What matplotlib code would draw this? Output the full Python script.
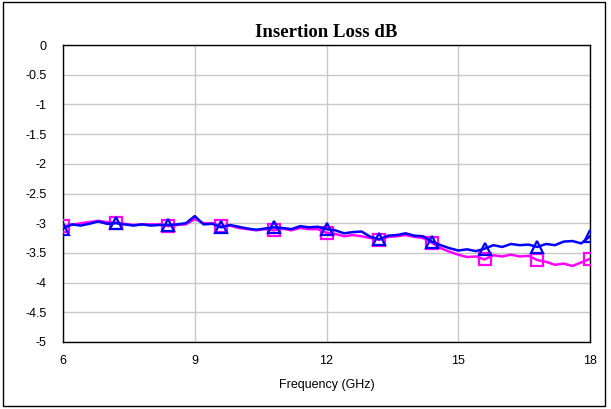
import numpy as np
import matplotlib
matplotlib.use('Agg')
from matplotlib import pyplot as plt
from matplotlib.patches import Rectangle

# frequency grid, GHz (0.2 GHz step)
freq = np.round(np.arange(6.0, 18.0001, 0.2), 2)

# insertion loss, dB
loss_blue = [-3.09, -3.02, -3.04, -3.01, -2.97, -3.01, -3.00, -3.02, -3.04, -3.02,
             -3.04, -3.03, -3.03, -3.02, -3.00, -2.88, -3.02, -3.01, -3.07, -3.03,
             -3.06, -3.09, -3.11, -3.09, -3.07, -3.08, -3.10, -3.05, -3.07, -3.06,
             -3.10, -3.12, -3.17, -3.15, -3.14, -3.23, -3.27, -3.21, -3.20, -3.17,
             -3.21, -3.22, -3.31, -3.37, -3.42, -3.46, -3.44, -3.47, -3.43, -3.37,
             -3.40, -3.35, -3.37, -3.36, -3.40, -3.35, -3.37, -3.31, -3.30, -3.34,
             -3.22]
loss_magenta = [-3.05, -3.03, -3.00, -2.98, -2.96, -2.98, -2.99, -3.01, -3.03, -3.02,
                -3.02, -3.02, -3.05, -3.03, -3.02, -2.93, -3.00, -3.00, -3.05, -3.04,
                -3.08, -3.10, -3.12, -3.10, -3.12, -3.09, -3.12, -3.08, -3.10, -3.10,
                -3.16, -3.18, -3.22, -3.20, -3.22, -3.25, -3.28, -3.23, -3.22, -3.20,
                -3.23, -3.25, -3.33, -3.42, -3.48, -3.53, -3.57, -3.56, -3.61, -3.54,
                -3.56, -3.53, -3.56, -3.55, -3.62, -3.65, -3.70, -3.68, -3.72, -3.66,
                -3.60]

xticks = [6, 9, 12, 15, 18]
yticks = np.arange(-5, 0.01, 0.5)
ylabels = ['-5', '-4.5', '-4', '-3.5', '-3', '-2.5', '-2', '-1.5', '-1', '-0.5', '0']

plt.rcParams['font.family'] = ['Liberation Sans', 'DejaVu Sans']

fig = plt.figure(figsize=(6.11, 4.09), dpi=100)
ax = fig.add_axes([63/611, 1-342/409, (590-63)/611, (342-45)/409])

# outer frame of the chart
fig.patches.append(Rectangle((3/611, 3/409), 602/611, 404/409, transform=fig.transFigure,
                             fill=False, edgecolor='black', linewidth=1.0))

ax.plot(freq, loss_magenta, color='#FF00FF', lw=1.8, marker='s', markersize=8,
        markerfacecolor='none', markeredgewidth=1.6, markevery=6, zorder=3)
ax.plot(freq, loss_blue, color='#0000FF', lw=1.8, marker='^', markersize=8,
        markerfacecolor='none', markeredgewidth=1.6, markevery=6, zorder=4)

ax.set_xlim(6, 18)
ax.set_ylim(-5, 0)
ax.set_xticks(xticks)
ax.set_xticklabels([str(t) for t in xticks])
ax.set_yticks(yticks)
ax.set_yticklabels(ylabels)
ax.tick_params(length=0, labelsize=9)
ax.tick_params(axis='y', pad=12)
ax.tick_params(axis='x', pad=9)
ax.grid(True, color='#c8c8c8', lw=1.0)
ax.set_axisbelow(True)
for s in ax.spines.values():
    s.set_color('black')
    s.set_linewidth(1.0)

ax.set_xlabel('Frequency (GHz)', fontsize=9, labelpad=9)
ax.set_title('Insertion Loss dB', fontsize=13.5, fontweight='bold',
             family='Liberation Serif', pad=6)

fig.savefig('out.png', dpi=100)
